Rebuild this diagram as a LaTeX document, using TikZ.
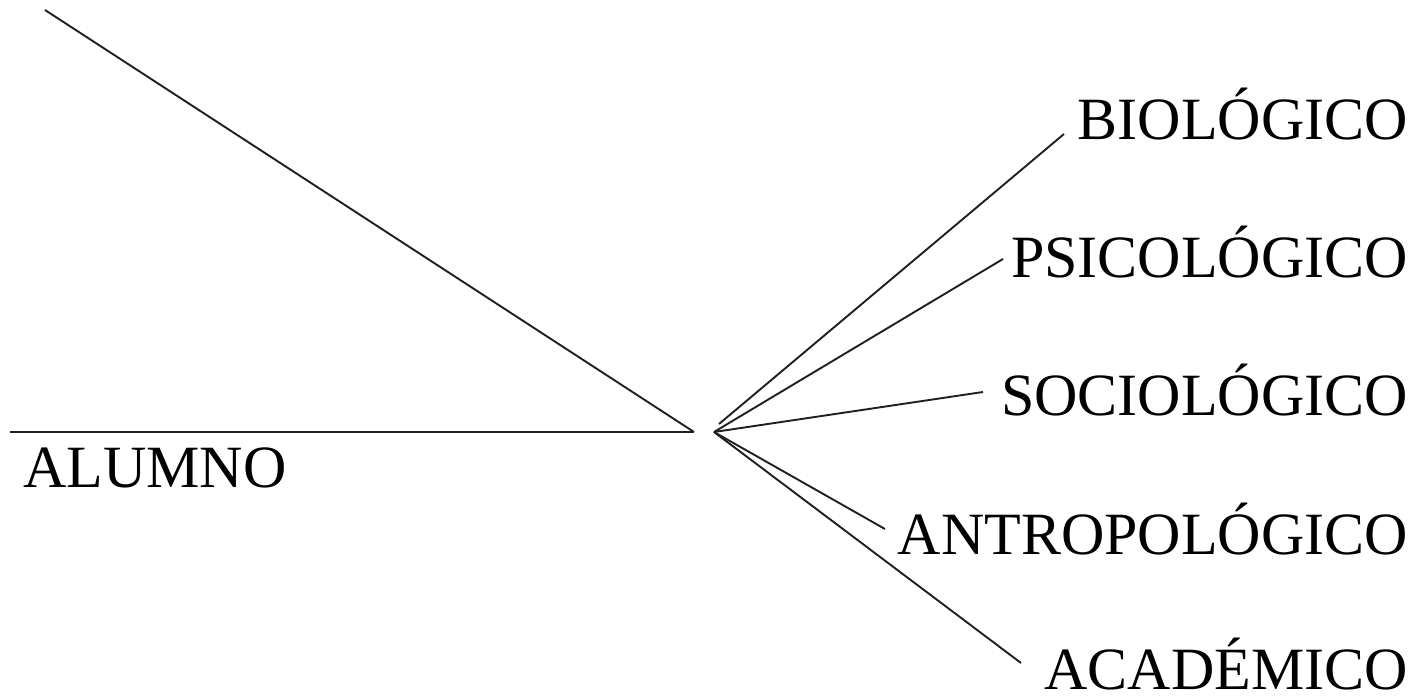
\documentclass[tikz,border=0pt]{standalone}
\usepackage{fontspec}
\setmainfont{Liberation Serif}
\begin{document}
\begin{tikzpicture}[x=1pt,y=-1pt,
  link/.style={line width=1.9pt,draw=black!88},
  label/.style={inner sep=0pt,font=\fontsize{60}{62}\selectfont},
  dim/.style={label,anchor=base east}]
\useasboundingbox (0,0) rectangle (1423,700);

% left side: subject on its base line
\coordinate (tip) at (45,10);
\coordinate (base) at (10,432);
\coordinate (apex) at (694,432);
\node[label,anchor=base west] (alumno) at (23,487) {ALUMNO};

% right side: fan of dimensions, right-aligned
\coordinate (hub) at (714,432);
\coordinate (hubtop) at (719,424);
\node[dim] (bio) at (1408,140) {BIOLÓGICO};
\node[dim] (psi) at (1408,278) {PSICOLÓGICO};
\node[dim] (soc) at (1408,415) {SOCIOLÓGICO};
\node[dim] (ant) at (1408,554) {ANTROPOLÓGICO};
\node[dim] (aca) at (1408,689) {ACADÉMICO};

\coordinate (ebio) at (1064,134);
\coordinate (epsi) at (1003,259);
\coordinate (esoc) at (983,392);
\coordinate (eant) at (885,529);
\coordinate (eaca) at (1021,663);

\draw[link] (tip) -- (apex);
\draw[link] (base) -- (apex);
\draw[link] (hubtop) -- (ebio);
\draw[link] (hub) -- (epsi);
\draw[link] (hub) -- (esoc);
\draw[link] (hub) -- (eant);
\draw[link] (hub) -- (eaca);
\end{tikzpicture}
\end{document}
